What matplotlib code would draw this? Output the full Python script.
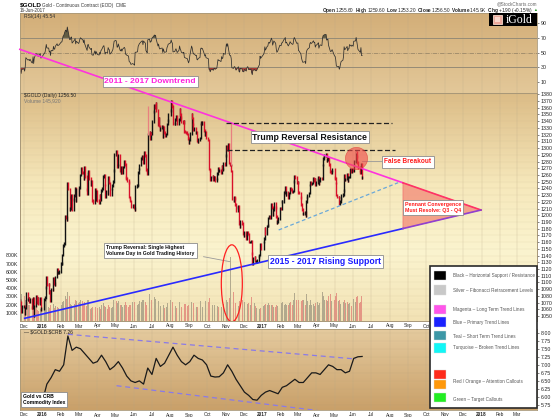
import numpy as np
import pandas as pd
import matplotlib
matplotlib.use("Agg")
import matplotlib.pyplot as plt
import matplotlib.dates as mdates
from matplotlib.patches import Rectangle, Ellipse, Polygon
from matplotlib.colors import LinearSegmentedColormap

plt.rcParams['font.family'] = ['Liberation Sans', 'DejaVu Sans']
plt.rcParams['mathtext.fontset'] = 'custom'
plt.rcParams['mathtext.rm'] = 'Liberation Sans'
plt.rcParams['mathtext.bf'] = 'Liberation Sans:bold'

# ---------------- data ----------------
warmup_start = "2015-10-26"
warmup_close = [1164, 1166, 1176, 1147, 1142, 1135, 1114, 1105, 1104, 1088, 1091,
                1090, 1085, 1083, 1081, 1085, 1069, 1067, 1078, 1076, 1067]

month_starts = ["2015-11-24", "2015-12-01", "2016-01-04", "2016-02-01", "2016-03-01",
                "2016-04-01", "2016-05-02", "2016-06-01", "2016-07-01", "2016-08-01",
                "2016-09-01", "2016-10-03", "2016-11-01", "2016-12-01", "2017-01-03",
                "2017-02-01", "2017-03-01", "2017-04-03", "2017-05-01", "2017-06-01"]

close_2015_11 = [1074, 1071, 1056, 1064]
close_2015_12 = [1065, 1053, 1062, 1084, 1075, 1075, 1076, 1072, 1075, 1063, 1062, 1076,
                 1050, 1065, 1080, 1074, 1070, 1076, 1068, 1077, 1060, 1061]
close_2016_01 = [1075, 1078, 1092, 1108, 1097, 1097, 1085, 1087, 1073, 1090, 1089, 1106,
                 1098, 1097, 1108, 1119, 1114, 1115, 1116]
close_2016_02 = [1128, 1128, 1141, 1155, 1158, 1198, 1197, 1194, 1248, 1239, 1209, 1210,
                 1226, 1230, 1209, 1223, 1229, 1240, 1221, 1238]
close_2016_03 = [1230, 1241, 1260, 1270, 1264, 1263, 1254, 1272, 1258, 1238, 1232, 1262,
                 1265, 1255, 1245, 1250, 1222, 1221, 1219, 1238, 1223, 1235]
close_2016_04 = [1222, 1219, 1230, 1223, 1237, 1240, 1258, 1260, 1245, 1228, 1235, 1232,
                 1256, 1250, 1248, 1231, 1239, 1244, 1250, 1267, 1290]
close_2016_05 = [1295, 1290, 1273, 1275, 1289, 1266, 1264, 1272, 1264, 1272, 1280, 1276,
                 1256, 1255, 1252, 1249, 1227, 1224, 1221, 1213, 1215]
close_2016_06 = [1211, 1208, 1243, 1244, 1245, 1264, 1269, 1275, 1284, 1286, 1288, 1279,
                 1294, 1289, 1268, 1266, 1262, 1320, 1324, 1314, 1322, 1321]
close_2016_07 = [1340, 1354, 1363, 1360, 1366, 1356, 1335, 1345, 1333, 1328, 1330, 1332,
                 1317, 1331, 1323, 1319, 1321, 1336, 1341, 1350]
close_2016_08 = [1356, 1370, 1364, 1362, 1336, 1337, 1343, 1347, 1342, 1336, 1343, 1358,
                 1350, 1346, 1340, 1338, 1340, 1325, 1324, 1323, 1321, 1314, 1308]
close_2016_09 = [1312, 1322, 1350, 1345, 1335, 1328, 1329, 1323, 1324, 1311, 1310, 1313,
                 1315, 1336, 1339, 1337, 1338, 1326, 1320, 1323, 1315]
close_2016_10 = [1312, 1269, 1267, 1253, 1257, 1258, 1253, 1256, 1257, 1252, 1254, 1262,
                 1270, 1267, 1267, 1264, 1273, 1268, 1269, 1278, 1276]
close_2016_11 = [1289, 1302, 1297, 1305, 1278, 1275, 1275, 1266, 1225, 1222, 1226, 1225,
                 1216, 1207, 1212, 1214, 1187, 1183, 1191, 1188, 1173]
close_2016_12 = [1170, 1175, 1165, 1171, 1174, 1172, 1160, 1160, 1161, 1143, 1128, 1136,
                 1138, 1132, 1131, 1131, 1133, 1139, 1141, 1157, 1151]
close_2017_01 = [1160, 1165, 1180, 1172, 1184, 1185, 1196, 1198, 1196, 1216, 1212, 1201,
                 1209, 1217, 1212, 1198, 1189, 1191, 1195, 1211]
close_2017_02 = [1210, 1220, 1220, 1234, 1236, 1242, 1231, 1234, 1226, 1230, 1233, 1240,
                 1238, 1235, 1236, 1250, 1258, 1256, 1248]
close_2017_03 = [1249, 1234, 1233, 1226, 1216, 1209, 1203, 1203, 1204, 1199, 1220, 1226,
                 1229, 1233, 1245, 1249, 1247, 1248, 1255, 1252, 1253, 1245, 1249]
close_2017_04 = [1253, 1256, 1247, 1252, 1255, 1254, 1275, 1285, 1287, 1289, 1290, 1282,
                 1283, 1285, 1276, 1265, 1264, 1266, 1268]
close_2017_05 = [1256, 1255, 1248, 1230, 1227, 1227, 1217, 1220, 1225, 1229, 1231, 1237,
                 1259, 1253, 1254, 1261, 1252, 1257, 1257, 1268, 1265, 1268]
close_2017_06 = [1266, 1280, 1281, 1293, 1287, 1279, 1271, 1266, 1264, 1276, 1256, 1256.5]

vol_2015_11 = [310, 250, 150, 330]
vol_2015_12 = [280, 300, 260, 320, 230, 200, 210, 190, 180, 170, 160, 230, 290, 200, 150,
               170, 130, 60, 120, 150, 170, 110]
vol_2016_01 = [180, 190, 230, 260, 210, 170, 160, 150, 190, 180, 170, 210, 190, 160, 180,
               200, 170, 160, 150]
vol_2016_02 = [190, 200, 230, 220, 240, 300, 290, 270, 350, 280, 300, 210, 220, 190, 230,
               200, 210, 230, 260, 240]
vol_2016_03 = [220, 230, 250, 260, 240, 200, 190, 210, 230, 180, 170, 260, 250, 190, 150,
               160, 210, 170, 140, 190, 170, 180]
vol_2016_04 = [160, 150, 170, 150, 180, 190, 220, 210, 180, 190, 170, 150, 210, 200, 170,
               190, 160, 170, 230, 260, 250]
vol_2016_05 = [230, 240, 260, 220, 240, 210, 200, 190, 180, 170, 190, 200, 230, 210, 190,
               170, 220, 200, 190, 200, 230]
vol_2016_06 = [220, 230, 300, 200, 190, 230, 210, 240, 250, 230, 260, 270, 250, 230, 210,
               200, 210, 490, 330, 260, 240, 260]
vol_2016_07 = [300, 280, 290, 260, 270, 220, 260, 240, 210, 200, 180, 170, 210, 190, 170,
               160, 170, 230, 220, 250]
vol_2016_08 = [260, 290, 250, 230, 320, 210, 180, 170, 160, 190, 150, 230, 200, 180, 170,
               150, 160, 210, 200, 210, 180, 200, 190]
vol_2016_09 = [210, 190, 230, 170, 160, 220, 200, 180, 170, 190, 170, 150, 160, 240, 200,
               160, 170, 200, 220, 240, 210]
vol_2016_10 = [230, 380, 280, 250, 290, 200, 220, 230, 200, 190, 170, 180, 200, 170, 150,
               160, 170, 180, 190, 210, 200]
vol_2016_11 = [240, 250, 210, 230, 280, 300, 780, 430, 410, 350, 300, 250, 220, 210, 190,
               180, 290, 240, 230, 220, 260]
vol_2016_12 = [250, 230, 240, 220, 210, 230, 220, 200, 190, 290, 330, 260, 220, 180, 170,
               160, 110, 130, 150, 170, 160]
vol_2017_01 = [180, 200, 230, 210, 190, 200, 220, 210, 190, 200, 180, 200, 170, 160, 170,
               190, 200, 180, 170, 190]
vol_2017_02 = [210, 220, 230, 240, 200, 210, 230, 200, 190, 210, 220, 250, 230, 200, 190,
               260, 340, 230, 260]
vol_2017_03 = [230, 260, 250, 220, 240, 230, 260, 250, 220, 200, 330, 280, 240, 200, 230,
               250, 220, 190, 210, 200, 180, 220, 210]
vol_2017_04 = [230, 200, 240, 220, 250, 230, 350, 300, 310, 250, 280, 260, 240, 230, 300,
               330, 260, 240, 220]
vol_2017_05 = [250, 230, 300, 340, 260, 240, 250, 230, 210, 200, 220, 230, 330, 260, 220,
               200, 230, 210, 190, 220, 180, 230]
vol_2017_06 = [240, 270, 230, 330, 290, 300, 240, 220, 230, 400, 310, 150]

spike_dates = ["2016-06-24", "2016-11-09", "2017-06-06"]
spike_highs = [1362, 1337, 1296]

ratio_start = "2015-11-27"
ratio_2015 = [5.90, 5.95, 5.95, 5.90, 5.95]
ratio_2016 = [5.90, 6.40, 6.60, 6.85, 6.80,
              7.00, 7.90, 7.45, 7.55,
              7.50, 7.35, 7.20, 7.05,
              7.10, 7.30, 7.10, 6.85, 6.95,
              7.10, 6.90, 6.65, 6.50,
              6.45, 6.50, 6.40, 6.90,
              6.70, 7.20, 6.95, 7.05, 7.30,
              7.55, 7.30, 7.10, 7.00,
              7.10, 7.30, 7.20, 7.15, 7.00,
              6.65, 6.62, 6.63, 6.75,
              7.00, 6.80, 6.55, 6.35,
              6.15, 6.05, 5.92, 5.90, 6.05]
ratio_2017 = [6.15, 6.20, 6.15, 6.10,
              6.30, 6.35, 6.45, 6.55,
              6.45, 6.45, 6.60, 6.75, 6.75,
              6.70, 6.85, 7.00, 6.95,
              6.85, 6.85, 6.75, 6.80,
              7.20, 7.25, 7.26]

close_months = [close_2015_11, close_2015_12, close_2016_01, close_2016_02, close_2016_03,
                close_2016_04, close_2016_05, close_2016_06, close_2016_07, close_2016_08,
                close_2016_09, close_2016_10, close_2016_11, close_2016_12, close_2017_01,
                close_2017_02, close_2017_03, close_2017_04, close_2017_05, close_2017_06]
vol_months = [vol_2015_11, vol_2015_12, vol_2016_01, vol_2016_02, vol_2016_03,
              vol_2016_04, vol_2016_05, vol_2016_06, vol_2016_07, vol_2016_08,
              vol_2016_09, vol_2016_10, vol_2016_11, vol_2016_12, vol_2017_01,
              vol_2017_02, vol_2017_03, vol_2017_04, vol_2017_05, vol_2017_06]

# ---------------- assemble ----------------
dates, close, volume = [], [], []
for st, cl, vo in zip(month_starts, close_months, vol_months):
    n = min(len(cl), len(vo))
    d = pd.bdate_range(st, periods=n)
    dates.extend(list(d)); close.extend(cl[:n]); volume.extend(vo[:n])
dates = pd.DatetimeIndex(dates)
close = np.array(close, float)
volume = np.array(volume, float) * 1000
xd = mdates.date2num(dates)

wdates = pd.bdate_range(warmup_start, periods=len(warmup_close))
allc = np.concatenate([np.array(warmup_close, float), close])
alld = mdates.date2num(wdates.append(dates))
prevc = allc[len(warmup_close) - 1:-1]

# RSI(14), Wilder
delta = np.diff(allc)
g = np.where(delta > 0, delta, 0.0)
l = np.where(delta < 0, -delta, 0.0)
N = 14
rsi = np.full(len(allc), np.nan)
ag, al = g[:N].mean(), l[:N].mean()
rsi[N] = 100 - 100 / (1 + ag / al)
for i in range(N + 1, len(allc)):
    ag = (ag * (N - 1) + g[i - 1]) / N
    al = (al * (N - 1) + l[i - 1]) / N
    rsi[i] = 100 - 100 / (1 + ag / al) if al > 0 else 100

ratio = ratio_2015 + ratio_2016 + ratio_2017
rdates = mdates.date2num(pd.date_range(ratio_start, periods=len(ratio), freq="W-FRI"))

def D(s):
    return mdates.date2num(pd.Timestamp(s))

# ---------------- figure ----------------
W, H = 557, 417
fig = plt.figure(figsize=(W / 100, H / 100), dpi=100)
fig.patch.set_facecolor("white")

def frect(x0, y0, x1, y1):
    return [x0 / W, 1 - y1 / H, (x1 - x0) / W, (y1 - y0) / H]

def fpt(x, y):
    return (x / W, 1 - y / H)

xl0 = D("2015-11-24 06:00")
xl1 = xl0 + 517 / 0.6005

ax_rsi = fig.add_axes(frect(20, 13.3, 537, 92.7))
ax_vol = fig.add_axes(frect(20, 93, 537, 321))
ax = ax_vol.twinx()
ax.set_zorder(ax_vol.get_zorder() + 1)
ax.patch.set_visible(False)
ax_bot = fig.add_axes(frect(20, 329, 537, 410))

def gradient(a, stops):
    cmap = LinearSegmentedColormap.from_list("g", stops)
    a.imshow(np.linspace(0, 1, 256).reshape(-1, 1), extent=[0, 1, 0, 1],
             transform=a.transAxes, origin="lower", cmap=cmap, aspect="auto",
             zorder=-10, interpolation="bilinear")

gradient(ax_rsi, [(0, "#e3c899"), (1, "#d3ae78")])
gradient(ax_vol, [(0, "#f2e2b4"), (0.3, "#fbf4cf"), (0.6, "#f6e8bb"), (1, "#dcbc86")])
gradient(ax_bot, [(0, "#c9a069"), (1, "#e5cb9f")])

months = pd.date_range("2015-12-01", "2018-03-01", freq="MS")
mnum = mdates.date2num(months)
mlabels = [str(m.year) if m.month == 1 else m.strftime("%b") for m in months]

spc = "#a89878"
for a in (ax_rsi, ax_vol, ax, ax_bot):
    for s in a.spines.values():
        s.set_color(spc); s.set_linewidth(0.6)

for a in (ax_rsi, ax_vol, ax_bot):
    a.set_xlim(xl0, xl1)
    a.set_xticks(mnum)
    a.grid(axis="x", color="#b8a888", lw=0.3, alpha=0.6)
ax.set_xlim(xl0, xl1)

for a in (ax_vol, ax_bot):
    a.set_xticklabels(mlabels)
    a.tick_params(axis="x", labelsize=3.4, length=0, pad=1.8, colors="#222")
    for t, m in zip(a.get_xticklabels(), months):
        if m.month == 1:
            t.set_fontweight("bold")
ax_rsi.tick_params(axis="x", labelbottom=False, length=0)

# ---- RSI panel ----
ax_rsi.set_ylim(-5, 103.7)
ax_rsi.yaxis.tick_right()
ax_rsi.set_yticks([10, 30, 50, 70, 90])
ax_rsi.tick_params(axis="y", labelsize=3.8, length=1.5, width=0.4, pad=1, colors="#222")
ax_rsi.axhline(70, color="#958b76", lw=0.7)
ax_rsi.axhline(30, color="#958b76", lw=0.7)
ax_rsi.axhline(50, color="#8e7e62", lw=0.5, ls="-.")
ax_rsi.plot(alld, rsi, color="#2e2e2e", lw=0.55)
ax_rsi.fill_between(alld, 70, rsi, where=rsi > 70, color="#4d4d3a", alpha=0.85, lw=0, interpolate=True)
ax_rsi.fill_between(alld, rsi, 30, where=rsi < 30, color="#a02525", alpha=0.85, lw=0, interpolate=True)
ax_rsi.text(0.008, 0.965, "RSI(14) 45.54", transform=ax_rsi.transAxes, fontsize=3.6,
            va="center", color="#333")

# ---- volume ----
ax_vol.set_ylim(0, 2780e3)
up = close >= prevc
ax_vol.bar(xd, volume, width=0.85, color=np.where(up, "#a39c84", "#e2857a"), alpha=0.82, lw=0)
vt = [100e3 * k for k in range(1, 9)]
ax_vol.set_yticks(vt)
ax_vol.set_yticklabels([f"{int(v / 1000)}K" for v in vt])
ax_vol.tick_params(axis="y", labelsize=3.8, length=0, pad=1.5, colors="#222")

# ---- price ----
ax.set_ylim(1042.6, 1382)
ax.set_yticks(np.arange(1050, 1381, 10))
ax.tick_params(axis="y", labelsize=3.8, length=1.5, width=0.4, pad=1, colors="#222")
ax.grid(axis="y", color="#c8b890", lw=0.3, alpha=0.35)
lo = np.minimum(prevc, close)
hi = np.maximum(prevc, close)
ax.vlines(xd, lo - 2, hi + 2, colors=np.where(up, "#111111", "#d8102a"), lw=1.0)
sx = [D(s) for s in spike_dates]
sc = [close[np.argmin(np.abs(xd - v))] for v in sx]
ax.vlines(sx, sc, spike_highs, colors="#e88080", lw=0.9)

ax.text(0.008, 0.987, "$GOLD (Daily) 1256.50", transform=ax.transAxes, fontsize=3.6,
        va="center", color="#222", parse_math=False)
ax.text(0.008, 0.966, "Volume 145,920", transform=ax.transAxes, fontsize=3.6,
        va="center", color="#777")

# trend lines
A0 = (D("2015-11-24"), 1447.0)
APX = (D("2017-12-31"), 1207.8)
B0 = (D("2015-12-02"), 1046.6)
L = D("2017-08-23")
uL = np.interp(L, [A0[0], APX[0]], [A0[1], APX[1]])
bL = np.interp(L, [B0[0], APX[0]], [B0[1], APX[1]])

ax.add_patch(Polygon([(L, uL), (L, bL), APX], closed=True, fc="#f39a84", ec="#f06a6a",
                     lw=0.5, alpha=0.9, zorder=4))
ax.plot([A0[0], L], [A0[1], uL], color="#ff33dd", lw=1.2, clip_on=False, zorder=5)
ax.plot([L, APX[0]], [uL, APX[1]], color="#ff3366", lw=1.2, zorder=5)
ax.plot([B0[0], L], [B0[1], bL], color="#2a2aff", lw=1.2, zorder=5)
ax.plot([L, APX[0]], [bL, APX[1]], color="#9040d0", lw=1.2, zorder=5)

ax.plot([D("2017-01-28"), D("2017-08-15")], [1178.1, 1248.5], color="#6aa8d8", lw=0.9,
        dashes=(3, 2), zorder=5)
ax.plot([D("2016-11-01"), D("2017-08-04")], [1337, 1337], color="#222", lw=0.9,
        dashes=(4, 2), zorder=5)
ax.plot([D("2016-11-03"), D("2017-08-10")], [1297, 1297], color="#222", lw=0.9,
        dashes=(4, 2), zorder=5)

box = dict(boxstyle="square,pad=0.2", fc="white", ec="#8c8c8c", lw=0.6)
ax.text(D("2016-06-28"), 1399, "2011 - 2017 Downtrend", color="#ff22dd", fontsize=6,
        fontweight="bold", ha="center", va="center", bbox=box, clip_on=False, zorder=20)
ax.text(D("2017-03-21"), 1316.5, "Trump Reversal Resistance", color="#111", fontsize=6.3,
        fontweight="bold", ha="center", va="center", bbox=box, zorder=20)
ax.text(D("2017-04-16"), 1131.2, "2015 - 2017 Rising Support", color="#1a1aff", fontsize=6.2,
        fontweight="bold", ha="center", va="center", bbox=box, zorder=20)

# false breakout
ax.plot([D("2017-06-15"), D("2017-07-20")], [1280.8, 1280.8], color="#999", lw=0.6, zorder=6)
ax.plot([D("2017-06-06")], [1284.8], marker="o", ms=16, mfc="#f04848", mec="#e03030",
        alpha=0.6, mew=0.5, zorder=7)
ax.text(D("2017-08-31"), 1279.7, "False Breakout", color="#ff1a1a", fontsize=4.7,
        fontweight="bold", ha="center", va="center",
        bbox=dict(boxstyle="square,pad=0.35", fc="white", ec="#8c8c8c", lw=0.6), zorder=20)

ax.text(D("2017-08-26"), 1211.3, "Pennant Convergence\nMust Resolve: Q3 - Q4",
        color="#ff1a1a", fontsize=3.8, fontweight="bold", ha="left", va="center",
        linespacing=1.25,
        bbox=dict(boxstyle="square,pad=0.4", fc="white", ec="#8c8c8c", lw=0.6), zorder=20)

# trump reversal volume
ax.plot([D("2016-09-25"), D("2016-11-08")], [1138.3, 1130.9], color="#999", lw=0.6, zorder=6)
ax.add_patch(Ellipse((D("2016-11-11"), 1098.7), 35, 114.6, fc="none", ec="#ff2020",
                     lw=0.9, zorder=8))
ax.text(D("2016-04-16"), 1147, "Trump Reversal: Single Highest\nVolume Day in Gold Trading History",
        color="#111", fontsize=3.7, fontweight="bold", ha="left", va="center",
        linespacing=1.2,
        bbox=dict(boxstyle="square,pad=0.4", fc="white", ec="#8c8c8c", lw=0.6), zorder=20)

# ---- bottom panel ----
ax_bot.set_ylim(5.594, 8.115)
ax_bot.yaxis.tick_right()
ax_bot.set_yticks(np.arange(5.75, 8.01, 0.25))
ax_bot.set_yticklabels([f"{v:.2f}" for v in np.arange(5.75, 8.01, 0.25)])
ax_bot.tick_params(axis="y", labelsize=3.8, length=1.5, width=0.4, pad=1, colors="#222")
ax_bot.grid(axis="y", color="#b8a07a", lw=0.3, alpha=0.35)
ax_bot.plot(rdates, ratio, color="#1a1a1a", lw=0.9, zorder=3)
ax_bot.plot([D("2016-02-12"), D("2017-06-06")], [7.95, 7.18], color="#8a7ae8", lw=0.9,
            dashes=(4, 3), zorder=2)
ax_bot.plot([D("2016-05-03"), D("2017-04-06")], [6.35, 5.57], color="#8a7ae8", lw=0.9,
            dashes=(4, 3), zorder=2)
ax_bot.text(0.008, 0.959, "\u2014 $GOLD:$CRB 7.26", transform=ax_bot.transAxes, fontsize=3.6,
            va="center", color="#222", parse_math=False)
ax_bot.text(0.006, 0.127, "Gold vs CRB\nCommodity Index", transform=ax_bot.transAxes,
            fontsize=3.6, fontweight="bold", ha="left", va="center", linespacing=1.3,
            bbox=dict(boxstyle="square,pad=0.4", fc="white", ec="#8c8c8c", lw=0.6), zorder=10)

# ---- header ----
fig.text(*fpt(19.5, 5.0), "$GOLD", fontsize=4.6, fontweight="bold", va="center",
         parse_math=False)
fig.text(*fpt(42.5, 5.0), "Gold - Continuous Contract (EOD)  CME", fontsize=3.3,
         va="center", color="#333")
fig.text(*fpt(19.5, 10.3), "16-Jun-2017", fontsize=3.3, va="center", color="#333")
fig.text(*fpt(537, 4.3), "@StockCharts.com", fontsize=3.3, va="center", ha="right",
         color="#666")
fig.text(*fpt(533, 10.2),
         r"$\mathbf{Open}$ 1255.60  $\mathbf{High}$ 1259.60  $\mathbf{Low}$ 1253.20  "
         r"$\mathbf{Close}$ 1256.50  $\mathbf{Volume}$ 145.9K  $\mathbf{Chg}$ +1.90 (+0.15%)",
         fontsize=3.4, va="center", ha="right", color="#222")
fig.text(*fpt(537, 10.2), "\u25B2", fontsize=2.8, va="center", ha="right", color="#2a9a2a")

# iGold logo
fig.patches.append(Rectangle(fpt(489.3, 26), 47.4 / W, 13.3 / H, transform=fig.transFigure,
                             fc="black", ec="none", zorder=30))
fig.patches.append(Rectangle(fpt(493, 24), 9 / W, 9 / H, transform=fig.transFigure,
                             fc="#eca89a", ec="#f8dccc", lw=0.6, zorder=31))
fig.patches.append(Rectangle(fpt(495.3, 21.7), 4.4 / W, 4.4 / H, transform=fig.transFigure,
                             fc="#f8d8cc", ec="none", zorder=32))
fig.text(*fpt(519.5, 19.6), "iGold", fontsize=8.5, family="Liberation Serif", color="white",
         ha="center", va="center", zorder=33)

# ---- colour legend box ----
fig.patches.append(Rectangle(fpt(430, 408.3), 106.7 / W, 142.3 / H, transform=fig.transFigure,
                             fc="white", ec="#2a2a2a", lw=1.2, zorder=30))
legend_items = [
    (275.3, "#000000", 275.3, "Black \u2013 Horizontal Support / Resistance"),
    (290.0, "#c8c8c8", 290.3, "Silver \u2013 Fibonacci Retracement Levels"),
    (309.7, "#ff55ea", 310.0, "Magenta \u2013 Long Term Trend Lines"),
    (322.0, "#1a22ff", 322.3, "Blue \u2013 Primary Trend Lines"),
    (335.8, "#3c97a6", 336.0, "Teal \u2013 Short Term Trend Lines"),
    (348.0, "#12f6f6", 348.0, "Turquoise \u2013 Broken Trend Lines"),
    (374.7, "#ff2a1a", None, None),
    (384.7, "#ff980a", 381.0, "Red / Orange \u2013 Attention Callouts"),
    (397.7, "#22ee22", 400.0, "Green \u2013 Target Callouts"),
]
for ys, col, yt, txt in legend_items:
    fig.patches.append(Rectangle(fpt(434, ys + 4.6), 11.5 / W, 9.2 / H,
                                 transform=fig.transFigure, fc=col, ec="#dddddd", lw=0.3,
                                 zorder=31))
    if txt:
        fig.text(*fpt(452.7, yt), txt, fontsize=3.3, color="#555", va="center", zorder=32)

fig.savefig("out.png", dpi=100, facecolor="white")
